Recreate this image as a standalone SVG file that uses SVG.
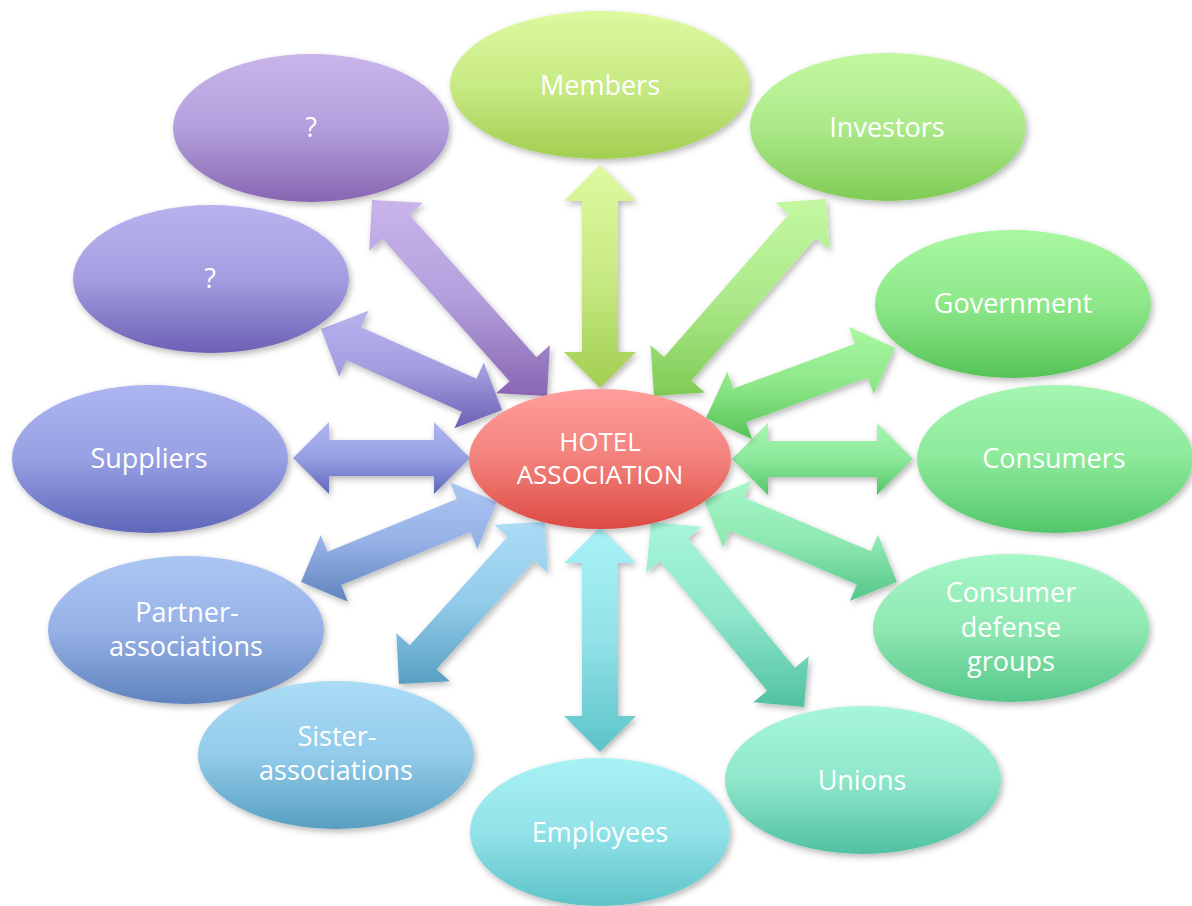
<svg xmlns="http://www.w3.org/2000/svg" width="1192" height="906" viewBox="0 0 1192 906">
  <defs>
    <filter id="shadow" x="-20%" y="-20%" width="140%" height="140%">
      <feDropShadow dx="2" dy="3" stdDeviation="3" flood-color="#000" flood-opacity="0.28"/>
    </filter>
    <linearGradient id="gQ1" x1="0" y1="0" x2="0" y2="1"><stop offset="0" stop-color="#c9b5eb"/><stop offset="0.5" stop-color="#b39fdc"/><stop offset="1" stop-color="#8865b2"/></linearGradient>
    <linearGradient id="gQ2" x1="0" y1="0" x2="0" y2="1"><stop offset="0" stop-color="#b8b3ee"/><stop offset="0.5" stop-color="#a39ee0"/><stop offset="1" stop-color="#6c60b5"/></linearGradient>
    <linearGradient id="gSup" x1="0" y1="0" x2="0" y2="1"><stop offset="0" stop-color="#adb5f1"/><stop offset="0.5" stop-color="#97a0e2"/><stop offset="1" stop-color="#5e66b9"/></linearGradient>
    <linearGradient id="gPar" x1="0" y1="0" x2="0" y2="1"><stop offset="0" stop-color="#acc6f3"/><stop offset="0.5" stop-color="#96b1e6"/><stop offset="1" stop-color="#5f83bd"/></linearGradient>
    <linearGradient id="gSis" x1="0" y1="0" x2="0" y2="1"><stop offset="0" stop-color="#aadcf6"/><stop offset="0.5" stop-color="#93cbea"/><stop offset="1" stop-color="#579fc1"/></linearGradient>
    <linearGradient id="gEmp" x1="0" y1="0" x2="0" y2="1"><stop offset="0" stop-color="#a9f2f6"/><stop offset="0.5" stop-color="#92e2e8"/><stop offset="1" stop-color="#5cc3c8"/></linearGradient>
    <linearGradient id="gUni" x1="0" y1="0" x2="0" y2="1"><stop offset="0" stop-color="#a7f6dd"/><stop offset="0.5" stop-color="#8fe6cb"/><stop offset="1" stop-color="#50c1a2"/></linearGradient>
    <linearGradient id="gDef" x1="0" y1="0" x2="0" y2="1"><stop offset="0" stop-color="#a7f7c9"/><stop offset="0.5" stop-color="#8fe8b1"/><stop offset="1" stop-color="#54c689"/></linearGradient>
    <linearGradient id="gCon" x1="0" y1="0" x2="0" y2="1"><stop offset="0" stop-color="#a5f6b1"/><stop offset="0.5" stop-color="#8ce99a"/><stop offset="1" stop-color="#52c669"/></linearGradient>
    <linearGradient id="gGov" x1="0" y1="0" x2="0" y2="1"><stop offset="0" stop-color="#a9f8a1"/><stop offset="0.5" stop-color="#8ee88a"/><stop offset="1" stop-color="#56c356"/></linearGradient>
    <linearGradient id="gInv" x1="0" y1="0" x2="0" y2="1"><stop offset="0" stop-color="#c3f8a1"/><stop offset="0.5" stop-color="#ace98a"/><stop offset="1" stop-color="#7fcb55"/></linearGradient>
    <linearGradient id="gMem" x1="0" y1="0" x2="0" y2="1"><stop offset="0" stop-color="#ddfa9f"/><stop offset="0.5" stop-color="#c8ea84"/><stop offset="1" stop-color="#a2ce51"/></linearGradient>
    <linearGradient id="gHub" x1="0" y1="0" x2="0" y2="1"><stop offset="0" stop-color="#ff9e9b"/><stop offset="0.5" stop-color="#f3817c"/><stop offset="1" stop-color="#dc4a42"/></linearGradient>
    <style>
      .node { filter: url(#shadow); }
      .arrow { filter: url(#shadow); }
      .label { font-family: "Open Sans", "Noto Sans", "Liberation Sans", sans-serif; font-size: 27px; fill: #ffffff; text-anchor: middle; }
      .hub { font-size: 26px; }
    </style>
  </defs>

  <rect width="1192" height="906" fill="#ffffff"/>

  <!-- double-headed block arrows between the hub and each stakeholder -->
  <g id="connectors">
    <polygon class="arrow" fill="url(#gQ1)" points="372,200 369.13,250.83 382.55,238.84 509.59,381.14 496.17,393.13 547,396 549.87,345.17 536.45,357.16 409.41,214.86 422.83,202.87"/>
    <polygon class="arrow" fill="url(#gQ2)" points="321,329 339.15,376.57 346.51,360.14 461.79,411.72 454.43,428.15 502,410 483.85,362.43 476.49,378.86 361.21,327.28 368.57,310.85"/>
    <polygon class="arrow" fill="url(#gSup)" points="293,458 329,494 329,476 434,476 434,494 470,458 434,422 434,440 329,440 329,422"/>
    <polygon class="arrow" fill="url(#gPar)" points="301,582 347.93,601.73 341.13,585.06 470.47,532.26 477.27,548.93 497,502 450.07,482.27 456.87,498.94 327.53,551.74 320.73,535.07"/>
    <polygon class="arrow" fill="url(#gSis)" points="399,684 449.84,681.36 436.47,669.31 534.27,560.79 547.64,572.84 545,522 494.16,524.64 507.53,536.69 409.73,645.21 396.36,633.16"/>
    <polygon class="arrow" fill="url(#gEmp)" points="600,752 636,716 618,716 618,563 636,563 600,527 564,563 582,563 582,716 564,716"/>
    <polygon class="arrow" fill="url(#gUni)" points="804,707 808.8,656.32 794.93,667.79 687.81,538.27 701.68,526.8 651,522 646.2,572.68 660.07,561.21 767.19,690.73 753.32,702.2"/>
    <polygon class="arrow" fill="url(#gDef)" points="897,582 877.95,534.79 870.91,551.35 744.17,497.51 751.21,480.95 704,500 723.05,547.21 730.09,530.65 856.83,584.49 849.79,601.05"/>
    <polygon class="arrow" fill="url(#gCon)" points="913,459 877,423 877,441 768,441 768,423 732,459 768,495 768,477 877,477 877,495"/>
    <polygon class="arrow" fill="url(#gGov)" points="895,348 848.72,326.74 854.98,343.63 733.52,388.61 727.26,371.72 706,418 752.28,439.26 746.02,422.37 867.48,377.39 873.74,394.28"/>
    <polygon class="arrow" fill="url(#gInv)" points="826,199 775.2,202.44 788.76,214.28 664.12,357.04 650.56,345.2 654,396 704.8,392.56 691.24,380.72 815.88,237.96 829.44,249.8"/>
    <polygon class="arrow" fill="url(#gMem)" points="600,165 564,201 582,201 582,352 564,352 600,388 636,352 618,352 618,201 636,201"/>
  </g>

  <g id="node-hub">
    <ellipse class="node" cx="600" cy="459" rx="131" ry="70" fill="url(#gHub)"/>
    <text class="label hub" x="600" y="451">HOTEL</text>
    <text class="label hub" x="600" y="484">ASSOCIATION</text>
  </g>
  <g id="node-members">
    <ellipse class="node" cx="600" cy="85" rx="150" ry="74" fill="url(#gMem)"/>
    <text class="label" x="600" y="95">Members</text>
  </g>
  <g id="node-investors">
    <ellipse class="node" cx="888" cy="127" rx="138" ry="74" fill="url(#gInv)"/>
    <text class="label" x="887" y="137">Investors</text>
  </g>
  <g id="node-government">
    <ellipse class="node" cx="1013" cy="304" rx="138" ry="74" fill="url(#gGov)"/>
    <text class="label" x="1013" y="313">Government</text>
  </g>
  <g id="node-consumers">
    <ellipse class="node" cx="1055" cy="459" rx="138" ry="74" fill="url(#gCon)"/>
    <text class="label" x="1054" y="468">Consumers</text>
  </g>
  <g id="node-consumer-defense">
    <ellipse class="node" cx="1011" cy="628" rx="138" ry="74" fill="url(#gDef)"/>
    <text class="label" x="1011" y="602">Consumer</text>
    <text class="label" x="1011" y="637">defense</text>
    <text class="label" x="1011" y="671">groups</text>
  </g>
  <g id="node-unions">
    <ellipse class="node" cx="863" cy="780" rx="138" ry="74" fill="url(#gUni)"/>
    <text class="label" x="862" y="790">Unions</text>
  </g>
  <g id="node-employees">
    <ellipse class="node" cx="600" cy="832" rx="130" ry="74" fill="url(#gEmp)"/>
    <text class="label" x="600" y="842">Employees</text>
  </g>
  <g id="node-partner">
    <ellipse class="node" cx="186" cy="630" rx="138" ry="74" fill="url(#gPar)"/>
    <text class="label" x="187" y="622">Partner-</text>
    <text class="label" x="186" y="656">associations</text>
  </g>
  <g id="node-sister">
    <ellipse class="node" cx="336" cy="755" rx="138" ry="74" fill="url(#gSis)"/>
    <text class="label" x="337" y="746">Sister-</text>
    <text class="label" x="336" y="780">associations</text>
  </g>
  <g id="node-suppliers">
    <ellipse class="node" cx="150" cy="459" rx="138" ry="74" fill="url(#gSup)"/>
    <text class="label" x="149" y="468">Suppliers</text>
  </g>
  <g id="node-unknown-lower">
    <ellipse class="node" cx="211" cy="279" rx="138" ry="74" fill="url(#gQ2)"/>
    <text class="label" x="210" y="288">?</text>
  </g>
  <g id="node-unknown-upper">
    <ellipse class="node" cx="311" cy="128" rx="138" ry="74" fill="url(#gQ1)"/>
    <text class="label" x="311" y="137">?</text>
  </g>
</svg>
